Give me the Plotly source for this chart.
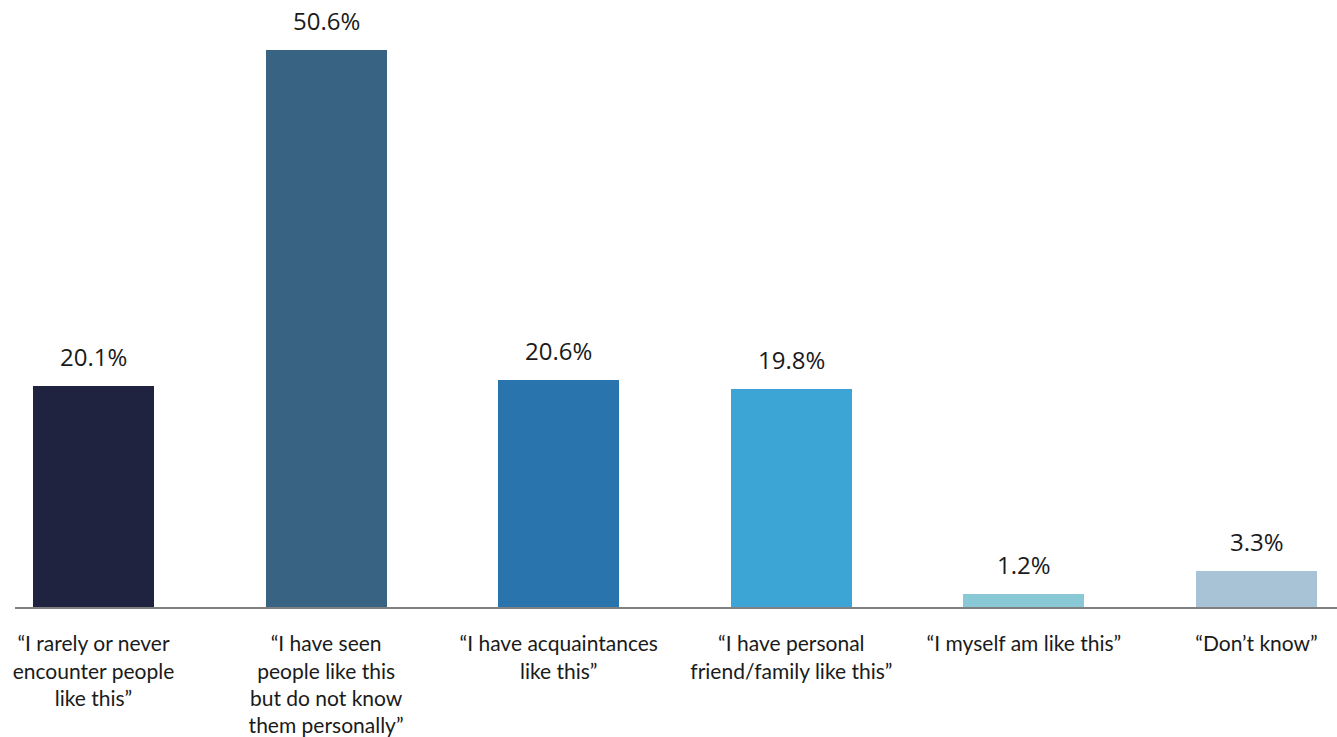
import plotly.graph_objects as go

categories = [
    "“I rarely or never<br>encounter people<br>like this”",
    "“I have seen<br>people like this<br>but do not know<br>them personally”",
    "“I have acquaintances<br>like this”",
    "“I have personal<br>friend/family like this”",
    "“I myself am like this”",
    "“Don’t know”",
]
values = [20.1, 50.6, 20.6, 19.8, 1.2, 3.3]
value_labels = ["20.1%", "50.6%", "20.6%", "19.8%", "1.2%", "3.3%"]
colors = ["#20233F", "#386383", "#2A74AD", "#3DA5D5", "#89C8D5", "#A7C3D5"]

xpos = list(range(len(categories)))

fig = go.Figure()
fig.add_trace(go.Bar(
    x=xpos, y=values, width=0.52,
    marker=dict(color=colors, line=dict(width=0)),
    hoverinfo="skip",
))

for x, v, t in zip(xpos, values, value_labels):
    fig.add_annotation(
        x=x, y=v, text=t, showarrow=False, yanchor="bottom", yshift=11,
        font=dict(family="Open Sans", size=24, color="#1a1a1a"),
    )

fig.update_layout(
    width=1337, height=737,
    margin=dict(l=15, r=0, t=2, b=130, autoexpand=False),
    plot_bgcolor="white", paper_bgcolor="white",
    showlegend=False,
    bargap=0,
)
fig.update_xaxes(
    range=[-0.3375, 5.346],
    tickvals=xpos, ticktext=categories,
    tickfont=dict(family="Lato", size=21, color="#1a1a1a"),
    showline=True, linecolor="#808080", linewidth=2,
    showgrid=False, zeroline=False, ticks="", ticklabelstandoff=17,
    automargin=False,
)
fig.update_yaxes(range=[0, 55], visible=False, showgrid=False, zeroline=False,
                 automargin=False)

fig.write_html(
    "out.html",
    config={"displayModeBar": False},
    post_script="document.body.style.margin='0px';document.body.style.overflow='hidden';",
)
